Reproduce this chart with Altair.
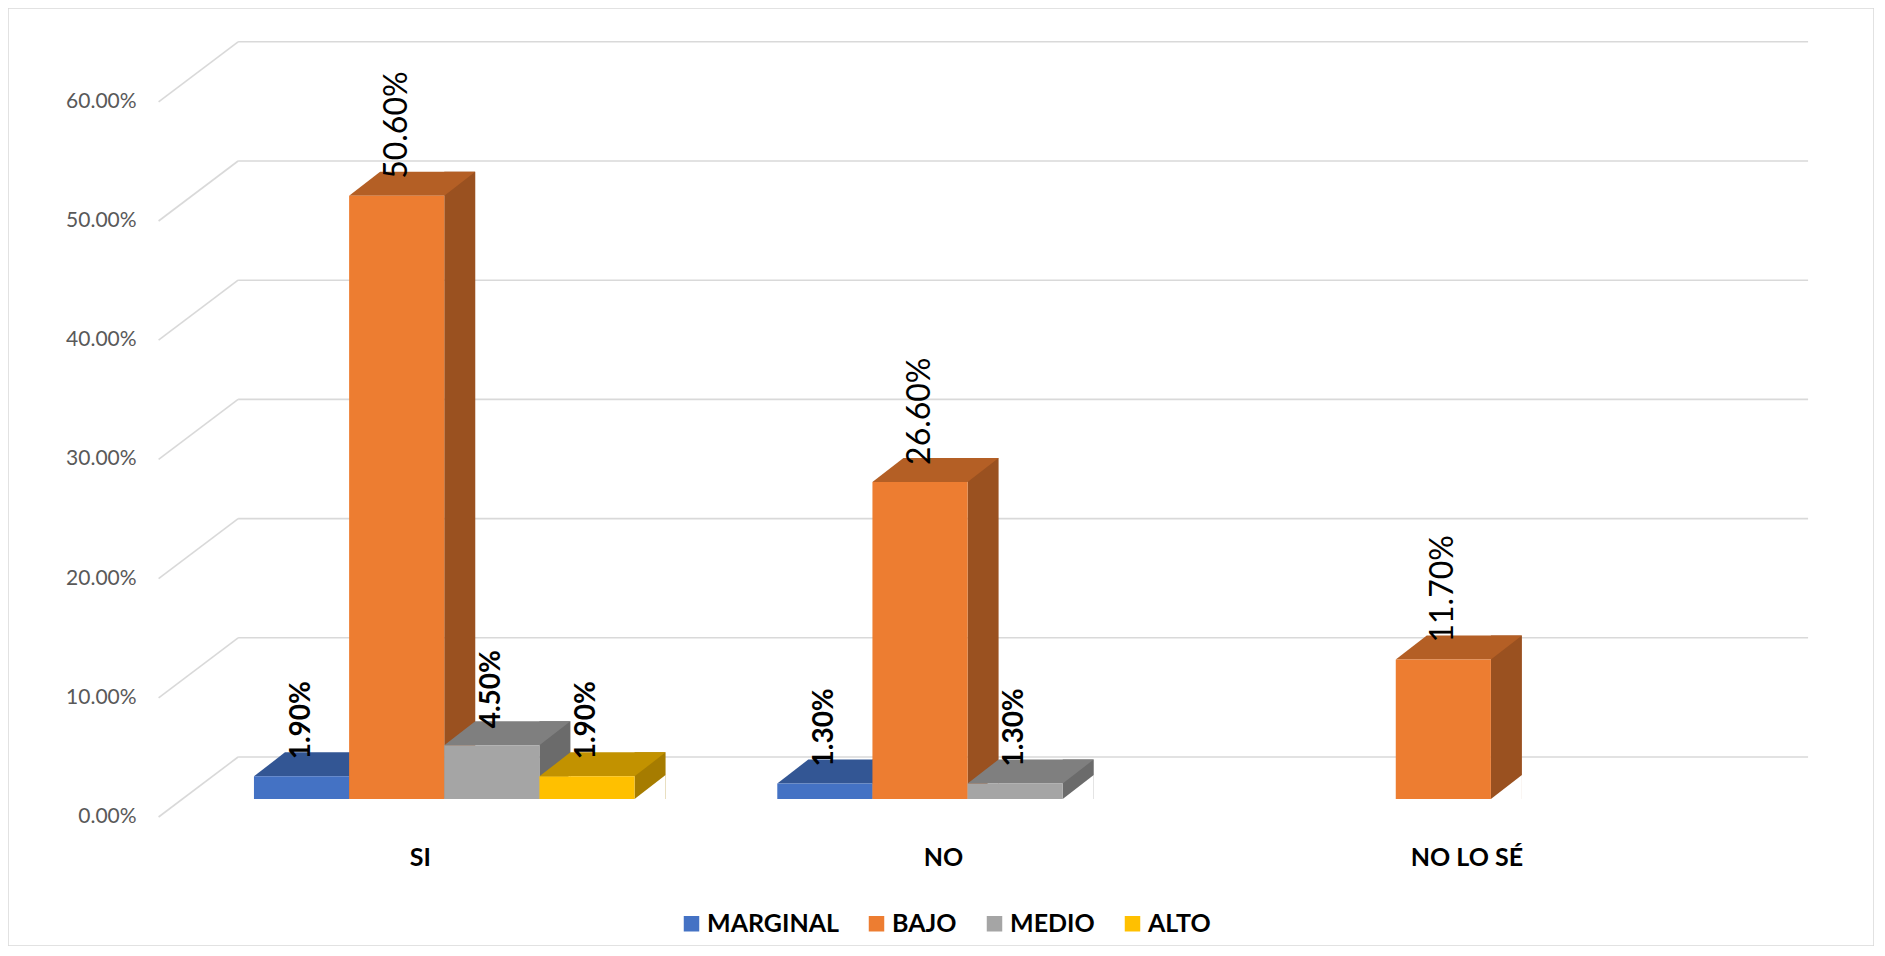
import altair as alt
import pandas as pd

# ---------------- data ----------------
categories = ["SI", "NO", "NO LO SÉ"]
series = ["MARGINAL", "BAJO", "MEDIO", "ALTO"]
marginal = [1.9, 1.3, None]
bajo = [50.6, 26.6, 11.7]
medio = [4.5, 1.3, None]
alto = [1.9, None, None]
y_ticks = [0, 10, 20, 30, 40, 50, 60]

values = {"MARGINAL": marginal, "BAJO": bajo, "MEDIO": medio, "ALTO": alto}

# ---------------- styles ----------------
front_colors = ["#4472C4", "#ED7D31", "#A5A5A5", "#FFC000"]
top_colors = ["#335694", "#B45F25", "#7F7F7F", "#C29200"]
side_colors = ["#2C4B82", "#9A5120", "#6B6B6B", "#A67C00"]
FONT = "Lato"

# ---------------- layout (pixels) ----------------
W, H = 1866, 938
PX_SLOT = 95.15      # pixels per bar slot (= bar width)
PX_PCT = 11.92       # pixels per percentage point
ORIGIN_X = 174.6     # view x of slot 0 (bar front plane)
ORIGIN_Y = 791.0     # view y of 0 % (bar front plane)
SLOTS_PER_CAT = 5.5
GAP = 0.75
BAR_DX, BAR_DY = 31, 24      # bar depth
WALL_DX, WALL_DY = 55.5, 42  # back wall shift
FRONT_DX, FRONT_DY = -24, 18 # front (label) plane shift (down)
LABEL_GAP = 17
TICK_GAP = 22
CAT_LABEL_DROP = 41


def sx(px):
    return px / PX_SLOT


def sy(px):
    return px / PX_PCT


xdom = [-ORIGIN_X / PX_SLOT, (W - ORIGIN_X) / PX_SLOT]
ydom = [(ORIGIN_Y - H) / PX_PCT, ORIGIN_Y / PX_PCT]
xs = alt.Scale(domain=xdom, nice=False, zero=False)
ys = alt.Scale(domain=ydom, nice=False, zero=False)

# symbol paths (unit box -1..1) for the 3D top face and for trimming the side face
half = PX_SLOT / 2
s_top = half + BAR_DX
top_path = "M{:.4f},0 L{:.4f},0 L{:.4f},{:.4f} L{:.4f},{:.4f} Z".format(
    -half / s_top, half / s_top, 1.0, -BAR_DY / s_top,
    (-half + BAR_DX) / s_top, -BAR_DY / s_top)
top_size = (2 * s_top) ** 2
s_tri = max(BAR_DX, BAR_DY)
tri_path = "M0,0 L{:.4f},0 L{:.4f},{:.4f} Z".format(
    BAR_DX / s_tri, BAR_DX / s_tri, -BAR_DY / s_tri)
tri_size = (2 * s_tri) ** 2

rows, label_rows = [], []
for ci, cat in enumerate(categories):
    for si, s in enumerate(series):
        v = values[s][ci]
        if v is None:
            continue
        x0 = ci * SLOTS_PER_CAT + GAP + si
        x1 = x0 + 1
        rows.append({"series": s, "x0": x0, "x1": x1, "xc": (x0 + x1) / 2,
                     "xs2": x1 + sx(BAR_DX), "y0": 0, "y1": v,
                     "ys2": v + sy(BAR_DY)})
        label_rows.append({"x": (x0 + x1) / 2, "y": v + sy(LABEL_GAP),
                           "t": f"{v:.2f}%", "bold": s != "BAJO"})

bar_df = pd.DataFrame(rows)
label_df = pd.DataFrame(label_rows)

total_slots = SLOTS_PER_CAT * len(categories)
grid_df = pd.DataFrame({
    "x": [sx(WALL_DX)] * len(y_ticks),
    "x2": [total_slots + sx(WALL_DX)] * len(y_ticks),
    "y": [t + sy(WALL_DY) for t in y_ticks],
})
diag_df = pd.DataFrame({
    "x": [sx(FRONT_DX)] * len(y_ticks),
    "x2": [sx(WALL_DX)] * len(y_ticks),
    "y": [t - sy(FRONT_DY) for t in y_ticks],
    "y2": [t + sy(WALL_DY) for t in y_ticks],
})
tick_df = pd.DataFrame({
    "x": [sx(FRONT_DX)] * len(y_ticks),
    "y": [t - sy(FRONT_DY) for t in y_ticks],
    "t": [f"{t:.2f}%" for t in y_ticks],
})
cat_df = pd.DataFrame({
    "x": [ci * SLOTS_PER_CAT + SLOTS_PER_CAT / 2 + sx(FRONT_DX) for ci in range(len(categories))],
    "y": [-sy(FRONT_DY) - sy(CAT_LABEL_DROP)] * len(categories),
    "t": categories,
})

X = lambda f: alt.X(f, scale=xs, axis=None)
Y = lambda f: alt.Y(f, scale=ys, axis=None)

grid = alt.Chart(grid_df).mark_rule(color="#D9D9D9", strokeWidth=1.6).encode(
    x=X("x:Q"), x2="x2:Q", y=Y("y:Q"))

diag = alt.Chart(diag_df).mark_rule(color="#D9D9D9", strokeWidth=1.6).encode(
    x=X("x:Q"), x2="x2:Q", y=Y("y:Q"), y2="y2:Q")

ticks = alt.Chart(tick_df).mark_text(font=FONT, fontSize=21, color="#595959",
                                     align="right", baseline="middle", dx=-TICK_GAP).encode(
    x=X("x:Q"), y=Y("y:Q"), text="t:N")

base = alt.Chart(bar_df)

side_layers, top_layers = [], []
for si, s in enumerate(series):
    flt = alt.datum.series == s
    side_layers.append(base.transform_filter(flt).mark_rect(color=side_colors[si], opacity=1).encode(
        x=X("x1:Q"), x2="xs2:Q", y=Y("y0:Q"), y2="ys2:Q"))
    top_layers.append(base.transform_filter(flt).mark_point(
        shape=top_path, size=top_size, filled=True, color=top_colors[si],
        opacity=1, strokeWidth=0).encode(x=X("xc:Q"), y=Y("y1:Q")))

trim = base.mark_point(shape=tri_path, size=tri_size, filled=True, color="white",
                       opacity=1, strokeWidth=0).encode(x=X("x1:Q"), y=Y("y0:Q"))

fronts = base.mark_rect(opacity=1).encode(
    x=X("x0:Q"), x2="x1:Q", y=Y("y0:Q"), y2="y1:Q",
    color=alt.Color("series:N", sort=series,
                    scale=alt.Scale(domain=series, range=front_colors),
                    legend=alt.Legend(orient="none", legendX=671, legendY=903,
                                      direction="horizontal", title=None,
                                      symbolType="square", symbolSize=240,
                                      symbolStrokeWidth=0, symbolOpacity=1,
                                      labelFont=FONT, labelFontSize=25,
                                      labelFontWeight="bold", labelColor="#000000",
                                      labelOffset=3, columnPadding=25)))

labels_reg = alt.Chart(label_df).transform_filter("!datum.bold").mark_text(
    font=FONT, fontSize=32, color="#000000", angle=270, align="left",
    baseline="middle").encode(x=X("x:Q"), y=Y("y:Q"), text="t:N")

labels_bold = alt.Chart(label_df).transform_filter("datum.bold").mark_text(
    font=FONT, fontSize=28, fontWeight="bold", color="#000000", angle=270, align="left",
    baseline="middle").encode(x=X("x:Q"), y=Y("y:Q"), text="t:N")

cats = alt.Chart(cat_df).mark_text(font=FONT, fontSize=25, fontWeight="bold",
                                   color="#000000", baseline="middle").encode(
    x=X("x:Q"), y=Y("y:Q"), text="t:N")

chart = alt.layer(grid, diag, ticks, *side_layers, trim, *top_layers, fronts,
                  labels_reg, labels_bold, cats).properties(
    width=W, height=H,
    autosize=alt.AutoSizeParams(type="none"),
    padding=0,
    background="white",
).configure_view(stroke="#D9D9D9", strokeWidth=1.5)

chart.save("out.html", embed_options={"renderer": "svg", "actions": False})
